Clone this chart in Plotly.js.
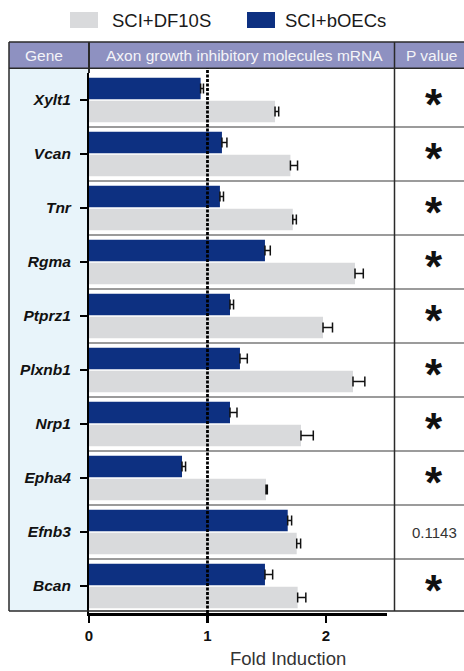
<!DOCTYPE html>
<html>
<head>
<meta charset="utf-8">
<script src="https://cdn.plot.ly/plotly-3.0.1.min.js"></script>
<style>html,body{margin:0;padding:0;background:#fff;}#chart{width:464px;height:671px;}</style>
</head>
<body>
<div id="chart"></div>
<script>
// ---- data ----
const genes = ['Xylt1','Vcan','Tnr','Rgma','Ptprz1','Plxnb1','Nrp1','Epha4','Efnb3','Bcan'];
const bOECs = [0.942, 1.122, 1.105, 1.485, 1.19, 1.274, 1.19, 0.785, 1.677, 1.485];
const bOECsErr = [0.024, 0.042, 0.03, 0.045, 0.03, 0.062, 0.059, 0.03, 0.033, 0.065];
const DF10S = [1.57, 1.70, 1.72, 2.245, 1.975, 2.228, 1.789, 1.494, 1.753, 1.761];
const DF10SErr = [0.031, 0.06, 0.03, 0.07, 0.08, 0.10, 0.104, 0.011, 0.033, 0.069];
const pValues = ['*','*','*','*','*','*','*','*','0.1143','*'];
const seriesNames = ['SCI+DF10S','SCI+bOECs'];
const headers = ['Gene','Axon growth inhibitory molecules mRNA','P value'];
const xTicks = [0,1,2];
const xTitle = 'Fold Induction';

// ---- geometry helpers (pixel -> paper) ----
const L = 89, R = 387, T = 73, B = 613;
const px = p => (p - L) / (R - L);
const py = p => (B - p) / (B - T);

const blue = '#0d3081', grey = '#d9dadc';
const lineCol = '#2a2a2a';
const font = 'Liberation Sans, Arial, sans-serif';

const zeros = genes.map(() => 0);

const traces = [
  {type:'bar', orientation:'h', name:seriesNames[1], y:genes, x:bOECs,
   marker:{color:blue, line:{width:0}},
   error_x:{type:'data', symmetric:false, array:bOECsErr, arrayminus:zeros, color:'#111', thickness:1.5, width:5},
   showlegend:false, hoverinfo:'skip'},
  {type:'bar', orientation:'h', name:seriesNames[0], y:genes, x:DF10S,
   marker:{color:grey, line:{width:0}},
   error_x:{type:'data', symmetric:false, array:DF10SErr, arrayminus:zeros, color:'#111', thickness:1.5, width:5},
   showlegend:false, hoverinfo:'skip'}
];

const shapes = [];
// header background
shapes.push({type:'rect', xref:'paper', yref:'paper', x0:px(9), x1:px(470), y0:py(68.3), y1:py(42),
  fillcolor:'#8e91c1', line:{width:0}, layer:'below'});
// gene column background
shapes.push({type:'rect', xref:'paper', yref:'paper', x0:px(9), x1:px(89), y0:py(611), y1:py(68.3),
  fillcolor:'#e8f4fa', line:{width:0}, layer:'below'});
// row separators
for (let i = 1; i < genes.length; i++) {
  shapes.push({type:'line', xref:'paper', yref:'y', x0:0, x1:px(470), y0:i-0.5, y1:i-0.5,
    line:{color:'#7a7a7a', width:1.5}, layer:'above'});
}
// table borders
const bl = (x0,y0,x1,y1,w) => shapes.push({type:'line', xref:'paper', yref:'paper',
  x0:px(x0), x1:px(x1), y0:py(y0), y1:py(y1), line:{color:lineCol, width:w||1.5}, layer:'above'});
bl(9,42,470,42);
bl(9,68.3,470,68.3);
bl(9,42,9,611);
bl(9,611,470,611);
bl(89,42,89,73,2);
bl(394.5,42,394.5,611);
// dashed reference line at 1
shapes.push({type:'line', xref:'x', yref:'paper', x0:1, x1:1, y0:0, y1:py(68.3),
  line:{color:'#000', width:2.8, dash:'3px,1.5px'}, layer:'above'});
// legend boxes
shapes.push({type:'rect', xref:'paper', yref:'paper', x0:px(70), x1:px(98), y0:py(28), y1:py(12),
  fillcolor:grey, line:{width:0}});
shapes.push({type:'rect', xref:'paper', yref:'paper', x0:px(247), x1:px(275), y0:py(28), y1:py(12),
  fillcolor:blue, line:{width:0}});

const annotations = [];
annotations.push({xref:'paper', yref:'paper', x:px(110), y:py(20), xanchor:'left', yanchor:'middle',
  text:seriesNames[0], showarrow:false, font:{family:font, size:18.5, color:'#1a1a1a'}});
annotations.push({xref:'paper', yref:'paper', x:px(283), y:py(20), xanchor:'left', yanchor:'middle',
  text:seriesNames[1], showarrow:false, font:{family:font, size:18.5, color:'#1a1a1a'}});
const hx = [44, 244.5, 431];
headers.forEach((h,i) => annotations.push({xref:'paper', yref:'paper', x:px(hx[i]), y:py(55.5),
  xanchor:'center', yanchor:'middle', text:h, showarrow:false, font:{family:font, size:15.5, color:'#f4f4f8'}}));
pValues.forEach((p,i) => {
  const star = p === '*';
  annotations.push({xref:'paper', yref:'y', x:px(434), y:genes[i], xanchor:'center', yanchor:'middle',
    text:p, showarrow:false, yshift: star ? -4 : 0,
    font:{family:font, size: star ? 44 : 15, color: star ? '#111' : '#333', weight: star ? 'bold' : 'normal'}});
});
annotations.push({xref:'paper', yref:'paper', x:px(288), y:py(658), xanchor:'center', yanchor:'middle',
  text:xTitle, showarrow:false, font:{family:font, size:18.5, color:'#333'}});

const layout = {
  width:464, height:671,
  margin:{l:L, r:464-R, t:T, b:671-B, pad:0},
  paper_bgcolor:'#fff', plot_bgcolor:'rgba(0,0,0,0)',
  barmode:'group', bargap:0.148, bargroupgap:0.06,
  showlegend:false,
  xaxis:{range:[0, 2.515], tickvals:xTicks, ticktext:xTicks.map(String), ticks:'outside', ticklen:7, tickwidth:2.5,
    tickcolor:'#000', showline:true, linecolor:'#000', linewidth:3, showgrid:false, zeroline:false,
    tickfont:{family:font, size:15, color:'#111', weight:'bold'}, fixedrange:true},
  yaxis:{type:'category', categoryarray:genes, categoryorder:'array', range:[genes.length-0.5, -0.5],
    ticks:'outside', ticklen:7, tickwidth:2, tickcolor:'#000', showline:true, linecolor:'#000', linewidth:2,
    showgrid:false, zeroline:false, ticklabelstandoff:6,
    tickfont:{family:font, size:15.5, color:'#111', weight:'bold', style:'italic'}, fixedrange:true},
  shapes:shapes, annotations:annotations
};

Plotly.newPlot('chart', traces, layout, {displayModeBar:false, staticPlot:true});
</script>
</body>
</html>
